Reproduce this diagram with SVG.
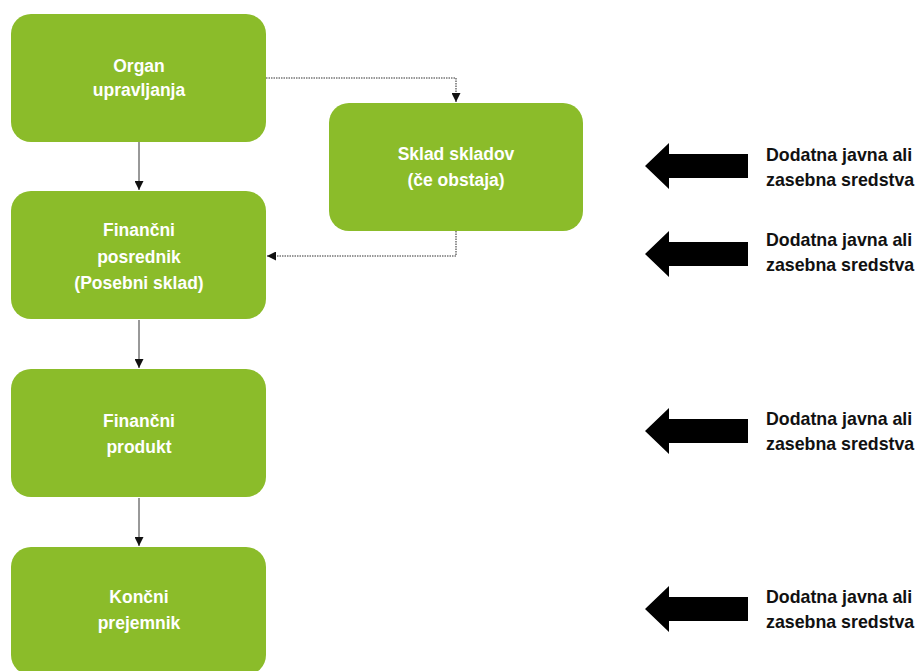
<svg xmlns="http://www.w3.org/2000/svg" width="924" height="671" viewBox="0 0 924 671">
<defs>
<style>
.box{fill:#8BBC2A;}
.bt{font-family:"Liberation Sans",Arial,sans-serif;font-weight:bold;font-size:17.5px;fill:#fff;text-anchor:middle;}
.side{font-family:"Liberation Sans",Arial,sans-serif;font-weight:bold;font-size:17.8px;fill:#111;}
.solid{stroke:#333;stroke-width:1;fill:none;}
.dot{stroke:#777;stroke-width:1.6;stroke-dasharray:1.5 1;fill:none;}
.big{fill:#000;}
</style>
<marker id="ah" viewBox="0 0 10 10" refX="10" refY="5" markerWidth="9" markerHeight="9" markerUnits="userSpaceOnUse" orient="auto">
<path d="M0,0 L10,5 L0,10 Z" fill="#111"/>
</marker>
</defs>
<rect width="924" height="671" fill="#fff"/>
<g id="connectors">
<line class="solid" x1="139" y1="142" x2="139" y2="190" marker-end="url(#ah)"/>
<line class="solid" x1="139" y1="320" x2="139" y2="368" marker-end="url(#ah)"/>
<line class="solid" x1="139" y1="498" x2="139" y2="546" marker-end="url(#ah)"/>
<path class="dot" d="M266,78 H456 V102" marker-end="url(#ah)"/>
<path class="dot" d="M456,231 V256 H267" marker-end="url(#ah)"/>
</g>
<g id="organ">
<rect class="box" x="11" y="14" width="255" height="128" rx="20"/>
<text class="bt" x="139" y="72">Organ</text>
<text class="bt" x="139" y="96">upravljanja</text>
</g>
<g id="sklad">
<rect class="box" x="329" y="103" width="254" height="128" rx="20"/>
<text class="bt" x="456" y="160">Sklad skladov</text>
<text class="bt" x="456" y="186">(če obstaja)</text>
</g>
<g id="posrednik">
<rect class="box" x="11" y="191" width="255" height="128" rx="20"/>
<text class="bt" x="139" y="236">Finančni</text>
<text class="bt" x="139" y="263">posrednik</text>
<text class="bt" x="139" y="289">(Posebni sklad)</text>
</g>
<g id="produkt">
<rect class="box" x="11" y="369" width="255" height="128" rx="20"/>
<text class="bt" x="139" y="427">Finančni</text>
<text class="bt" x="139" y="453">produkt</text>
</g>
<g id="prejemnik">
<rect class="box" x="11" y="547" width="255" height="128" rx="20"/>
<text class="bt" x="139" y="603">Končni</text>
<text class="bt" x="139" y="629">prejemnik</text>
</g>
<g id="sredstva1">
<path class="big" d="M645,166 L669,143 V154 H748 V178 H669 V189 Z"/>
<text class="side" x="766" y="161">Dodatna javna ali</text>
<text class="side" x="766" y="186">zasebna sredstva</text>
</g>
<g id="sredstva2">
<path class="big" d="M645,254 L669,231 V242 H748 V266 H669 V277 Z"/>
<text class="side" x="766" y="246">Dodatna javna ali</text>
<text class="side" x="766" y="271">zasebna sredstva</text>
</g>
<g id="sredstva3">
<path class="big" d="M645,431 L669,408 V419 H748 V443 H669 V454 Z"/>
<text class="side" x="766" y="425">Dodatna javna ali</text>
<text class="side" x="766" y="450">zasebna sredstva</text>
</g>
<g id="sredstva4">
<path class="big" d="M645,609 L669,586 V597 H748 V621 H669 V632 Z"/>
<text class="side" x="766" y="603">Dodatna javna ali</text>
<text class="side" x="766" y="628">zasebna sredstva</text>
</g>
</svg>
